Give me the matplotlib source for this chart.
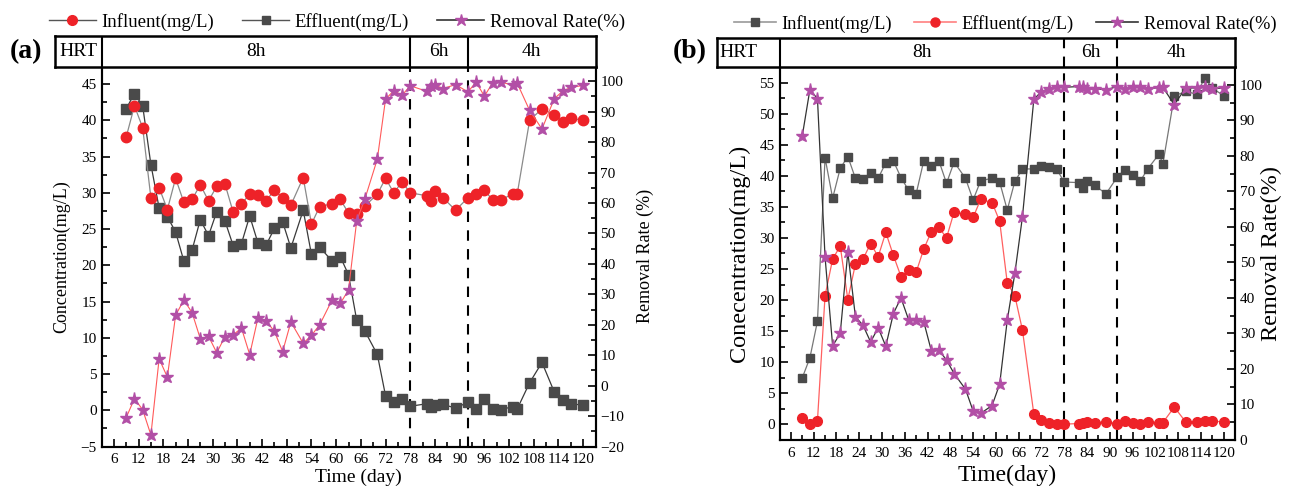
import matplotlib
matplotlib.use("Agg")
import matplotlib.pyplot as plt
from matplotlib.lines import Line2D
from matplotlib.ticker import MultipleLocator

plt.rcParams["font.family"] = ["Liberation Serif", "DejaVu Serif"]
plt.rcParams["axes.linewidth"] = 1.5

W, H = 1290, 487

# ---- data (day, mg/L, %) ----
days = [9, 11, 13, 15, 17, 19, 21, 23, 25, 27, 29, 31, 33, 35, 37, 39, 41, 43, 45, 47,
        49, 52, 54, 56, 59, 61, 63, 65, 67, 70, 72, 74, 76, 78, 82, 83, 84, 86, 89, 92,
        94, 96, 98, 100, 103, 104, 107, 110, 113, 115, 117, 120]

a_influent = [37.7, 42.0, 39.0, 29.3, 30.7, 27.7, 32.0, 28.7, 29.1, 31.1, 28.9, 30.9, 31.2,
              27.3, 28.5, 29.8, 29.7, 28.9, 30.4, 29.3, 28.3, 32.1, 25.7, 28.1, 28.5, 29.1,
              27.2, 27.1, 28.2, 29.8, 32.0, 30.0, 31.5, 30.0, 29.6, 28.9, 30.3, 29.3, 27.6,
              29.3, 29.8, 30.4, 29.0, 29.0, 29.9, 29.9, 40.0, 41.6, 40.8, 39.8, 40.3, 40.0]
a_effluent = [41.6, 43.7, 42.0, 33.9, 27.9, 26.7, 24.6, 20.6, 22.1, 26.3, 24.1, 27.4, 26.1,
              22.7, 23.0, 26.8, 23.1, 22.8, 25.1, 26.0, 22.4, 27.6, 21.5, 22.5, 20.6, 21.2,
              18.7, 12.4, 10.9, 7.7, 2.0, 1.1, 1.6, 0.55, 0.9, 0.46, 0.7, 0.8, 0.3, 1.1,
              0.2, 1.6, 0.2, 0.1, 0.5, 0.2, 3.8, 6.6, 2.5, 1.4, 0.9, 0.7]
a_removal = [-10.5, -4.3, -7.9, -16.2, 8.8, 2.8, 23.1, 28.1, 24.0, 15.4, 16.2, 10.8, 16.1,
             16.7, 18.9, 10.2, 22.2, 21.3, 17.8, 11.2, 20.9, 13.9, 16.5, 20.0, 28.1, 27.0,
             31.4, 54.2, 61.4, 74.4, 94.1, 96.9, 95.4, 98.5, 96.7, 98.4, 98.7, 97.6, 98.9,
             96.5, 99.7, 95.1, 99.4, 99.7, 98.7, 99.3, 90.4, 84.3, 94.3, 96.7, 98.0, 98.6]

b_influent = [7.5, 10.7, 16.6, 42.9, 36.4, 41.2, 43.1, 39.6, 39.5, 40.5, 39.6, 42.1, 42.4,
              39.7, 37.7, 37.1, 42.4, 41.5, 42.4, 38.8, 42.2, 39.6, 36.1, 39.2, 39.6, 39.0,
              34.5, 39.1, 41.1, 41.1, 41.6, 41.4, 41.1, 39.0, 38.9, 38.0, 39.2, 38.5, 37.1,
              39.8, 41.0, 40.1, 39.1, 41.1, 43.5, 41.9, 52.8, 53.6, 53.1, 55.8, 54.1, 52.9]
b_effluent = [0.97, 0.05, 0.6, 20.7, 26.6, 28.7, 20.1, 25.8, 26.6, 29.1, 27.0, 30.9, 27.2,
              23.8, 24.8, 24.5, 28.2, 31.0, 31.7, 30.0, 34.2, 33.8, 33.3, 36.2, 35.7, 32.7,
              22.8, 20.7, 15.2, 1.7, 0.7, 0.3, 0.15, 0.05, 0.15, 0.26, 0.42, 0.26, 0.42,
              0.15, 0.53, 0.26, 0.15, 0.42, 0.3, 0.3, 2.8, 0.42, 0.42, 0.53, 0.53, 0.42]
b_removal = [85.6, 98.6, 96.1, 51.5, 26.5, 30.0, 52.9, 34.7, 32.3, 27.6, 31.6, 26.4, 35.6,
             40.0, 33.9, 33.9, 33.3, 25.1, 25.3, 22.5, 18.7, 14.3, 8.2, 7.5, 9.7, 15.7,
             33.7, 46.9, 62.8, 95.9, 98.1, 98.9, 99.5, 99.3, 99.5, 99.3, 98.9, 98.9, 98.6,
             99.5, 98.7, 99.5, 99.3, 98.9, 99.2, 99.3, 94.4, 99.1, 99.1, 99.3, 98.9, 99.1]

hrt_labels = ["HRT", "8h", "6h", "4h"]
hrt_breaks = [78, 92]
xticks = list(range(6, 121, 6))

RED = "#ee2228"
GREY = "#4a4a4a"
PURPLE = "#b24fa6"


def frac(l, t, r, b):
    return [l / W, 1 - b / H, (r - l) / W, (b - t) / H]


def style_axes(ax, ax2):
    ax.set_xlim(3, 123)
    ax.set_xticks(xticks)
    ax.xaxis.set_minor_locator(MultipleLocator(3))
    for a in (ax, ax2):
        a.tick_params(which="both", direction="in", labelsize=11, width=1.2)
        a.tick_params(which="major", length=6)
        a.tick_params(which="minor", length=3.5)
    ax.tick_params(axis="x", pad=5)
    ax2.yaxis.set_minor_locator(MultipleLocator(5))
    ax.yaxis.set_minor_locator(MultipleLocator(2.5))


def hrt_box(ax_rect, main_left, dashed):
    l, t, r, b = ax_rect
    bx = fig.add_axes(frac(l, t, r, b))
    ppd = (r - main_left) / 120.0
    x0 = 3 - (main_left - l) / ppd
    bx.set_xlim(x0, 123)
    bx.set_ylim(0, 1)
    bx.set_xticks([])
    bx.set_yticks([])
    for s in bx.spines.values():
        s.set_linewidth(1.8)
    bx.axvline(3, color="k", lw=1.5)
    for xb in hrt_breaks:
        if dashed:
            bx.axvline(xb, color="k", lw=1.5, ls=(0, (5, 4)))
        else:
            bx.axvline(xb, color="k", lw=1.5)
    edges = [x0, 3] + hrt_breaks + [123]
    for i, lab in enumerate(hrt_labels):
        if i == 0 and dashed:
            bx.text(edges[0] + 0.6, 0.5, lab, ha="left", va="center", fontsize=14)
        else:
            bx.text((edges[i] + edges[i + 1]) / 2, 0.5, lab, ha="center", va="center", fontsize=14)
    return bx


fig = plt.figure(figsize=(W / 100, H / 100), dpi=100)

# ---------------- panel (a) ----------------
ax = fig.add_axes(frac(101.5, 66, 595.5, 446.5))
ax2 = ax.twinx()
ax.plot(days, a_influent, color="#8a8a8a", lw=0.9, marker="o", ms=7.5,
        mfc=RED, mec=RED, zorder=3)
ax.plot(days, a_effluent, color="#3a3a3a", lw=0.9, marker="s", ms=6.5,
        mfc=GREY, mec=GREY, zorder=2)
ax2.plot(days, a_removal, color="#ff5a5a", lw=0.8, marker="*", ms=9.5,
         mfc=PURPLE, mec=PURPLE)
ax.set_ylim(-5, 47.5)
ax.set_yticks(range(-5, 46, 5))
ax2.set_ylim(-20, 105)
ax2.set_yticks(range(-20, 101, 10))
style_axes(ax, ax2)
for xb in hrt_breaks:
    ax.axvline(xb, color="k", lw=1.5, ls=(0, (5, 4)), zorder=1)
ax.set_xlabel("Time (day)", fontsize=14)
ax.xaxis.set_label_coords(0.52, -0.08)
ax.xaxis.label.set_va("center")
ax.set_ylabel("Concentration(mg/L)", fontsize=13)
ax.yaxis.set_label_coords(-0.08, 0.5)
ax.yaxis.label.set_va("center")
ax2.set_ylabel("Removal Rate (%)", fontsize=13)
ax2.yaxis.set_label_coords(1.10, 0.5)
ax2.yaxis.label.set_va("center")
ax2.yaxis.label.set_rotation(90)
hrt_box((55, 36, 595.5, 66.5), 101.5, dashed=False)
fig.text(26 / W, 1 - 52 / H, "(a)", fontsize=20, fontweight="bold", ha="center", va="center")

handles_a = [
    Line2D([], [], color="#555555", lw=1, marker="o", ms=7, mfc=RED, mec=RED),
    Line2D([], [], color="#555555", lw=1, marker="s", ms=6, mfc=GREY, mec=GREY),
    Line2D([], [], color="#333333", lw=1.2, marker="*", ms=9, mfc=PURPLE, mec=PURPLE),
]
fig.legend(handles_a, ["Influent(mg/L)", "Effluent(mg/L)", "Removal Rate(%)"],
           loc="center left", bbox_to_anchor=(49 / W, 1 - 22 / H), ncol=3, frameon=False,
           fontsize=13.5, handlelength=2.5, handletextpad=0.3, columnspacing=1.5,
           borderpad=0, borderaxespad=0)

# ---------------- panel (b) ----------------
bx_ = fig.add_axes(frac(779.5, 67, 1235, 440))
bx2 = bx_.twinx()
bx_.plot(days, b_influent, color="#777777", lw=0.9, marker="s", ms=5.5,
         mfc=GREY, mec=GREY, zorder=2)
bx_.plot(days, b_effluent, color="#ff6060", lw=0.9, marker="o", ms=7,
         mfc=RED, mec=RED, zorder=3)
bx2.plot(days, b_removal, color="#333333", lw=0.9, marker="*", ms=9.5,
         mfc=PURPLE, mec=PURPLE)
bx_.set_ylim(-2.5, 57.5)
bx_.set_yticks(range(0, 56, 5))
bx2.set_ylim(0, 105)
bx2.set_yticks(range(0, 101, 10))
style_axes(bx_, bx2)
for xb in hrt_breaks:
    bx_.axvline(xb, color="k", lw=1.5, ls=(0, (5, 4)), zorder=1)
bx_.set_xlabel("Time(day)", fontsize=17)
bx_.xaxis.set_label_coords(0.5, -0.095)
bx_.xaxis.label.set_va("center")
bx_.set_ylabel("Conecentration(mg/L)", fontsize=17.5)
bx_.yaxis.set_label_coords(-0.089, 0.5)
bx_.yaxis.label.set_va("center")
bx2.set_ylabel("Removal Rate(%)", fontsize=17.5)
bx2.yaxis.set_label_coords(1.081, 0.5)
bx2.yaxis.label.set_va("center")
bx2.yaxis.label.set_rotation(90)
hrt_box((717, 38, 1235, 67), 779.5, dashed=True)
fig.text(690 / W, 1 - 52 / H, "(b)", fontsize=20, fontweight="bold", ha="center", va="center")

handles_b = [
    Line2D([], [], color="#999999", lw=1.2, marker="s", ms=5.5, mfc=GREY, mec=GREY),
    Line2D([], [], color="#ff8080", lw=1.2, marker="o", ms=6.5, mfc=RED, mec=RED),
    Line2D([], [], color="#333333", lw=1.2, marker="*", ms=9, mfc=PURPLE, mec=PURPLE),
]
fig.legend(handles_b, ["Influent(mg/L)", "Effluent(mg/L)", "Removal Rate(%)"],
           loc="center left", bbox_to_anchor=(734 / W, 1 - 24 / H), ncol=3, frameon=False,
           fontsize=13.2, handlelength=2.3, handletextpad=0.3, columnspacing=1.2,
           borderpad=0, borderaxespad=0)

fig.savefig("out.png", dpi=100, facecolor="white")
